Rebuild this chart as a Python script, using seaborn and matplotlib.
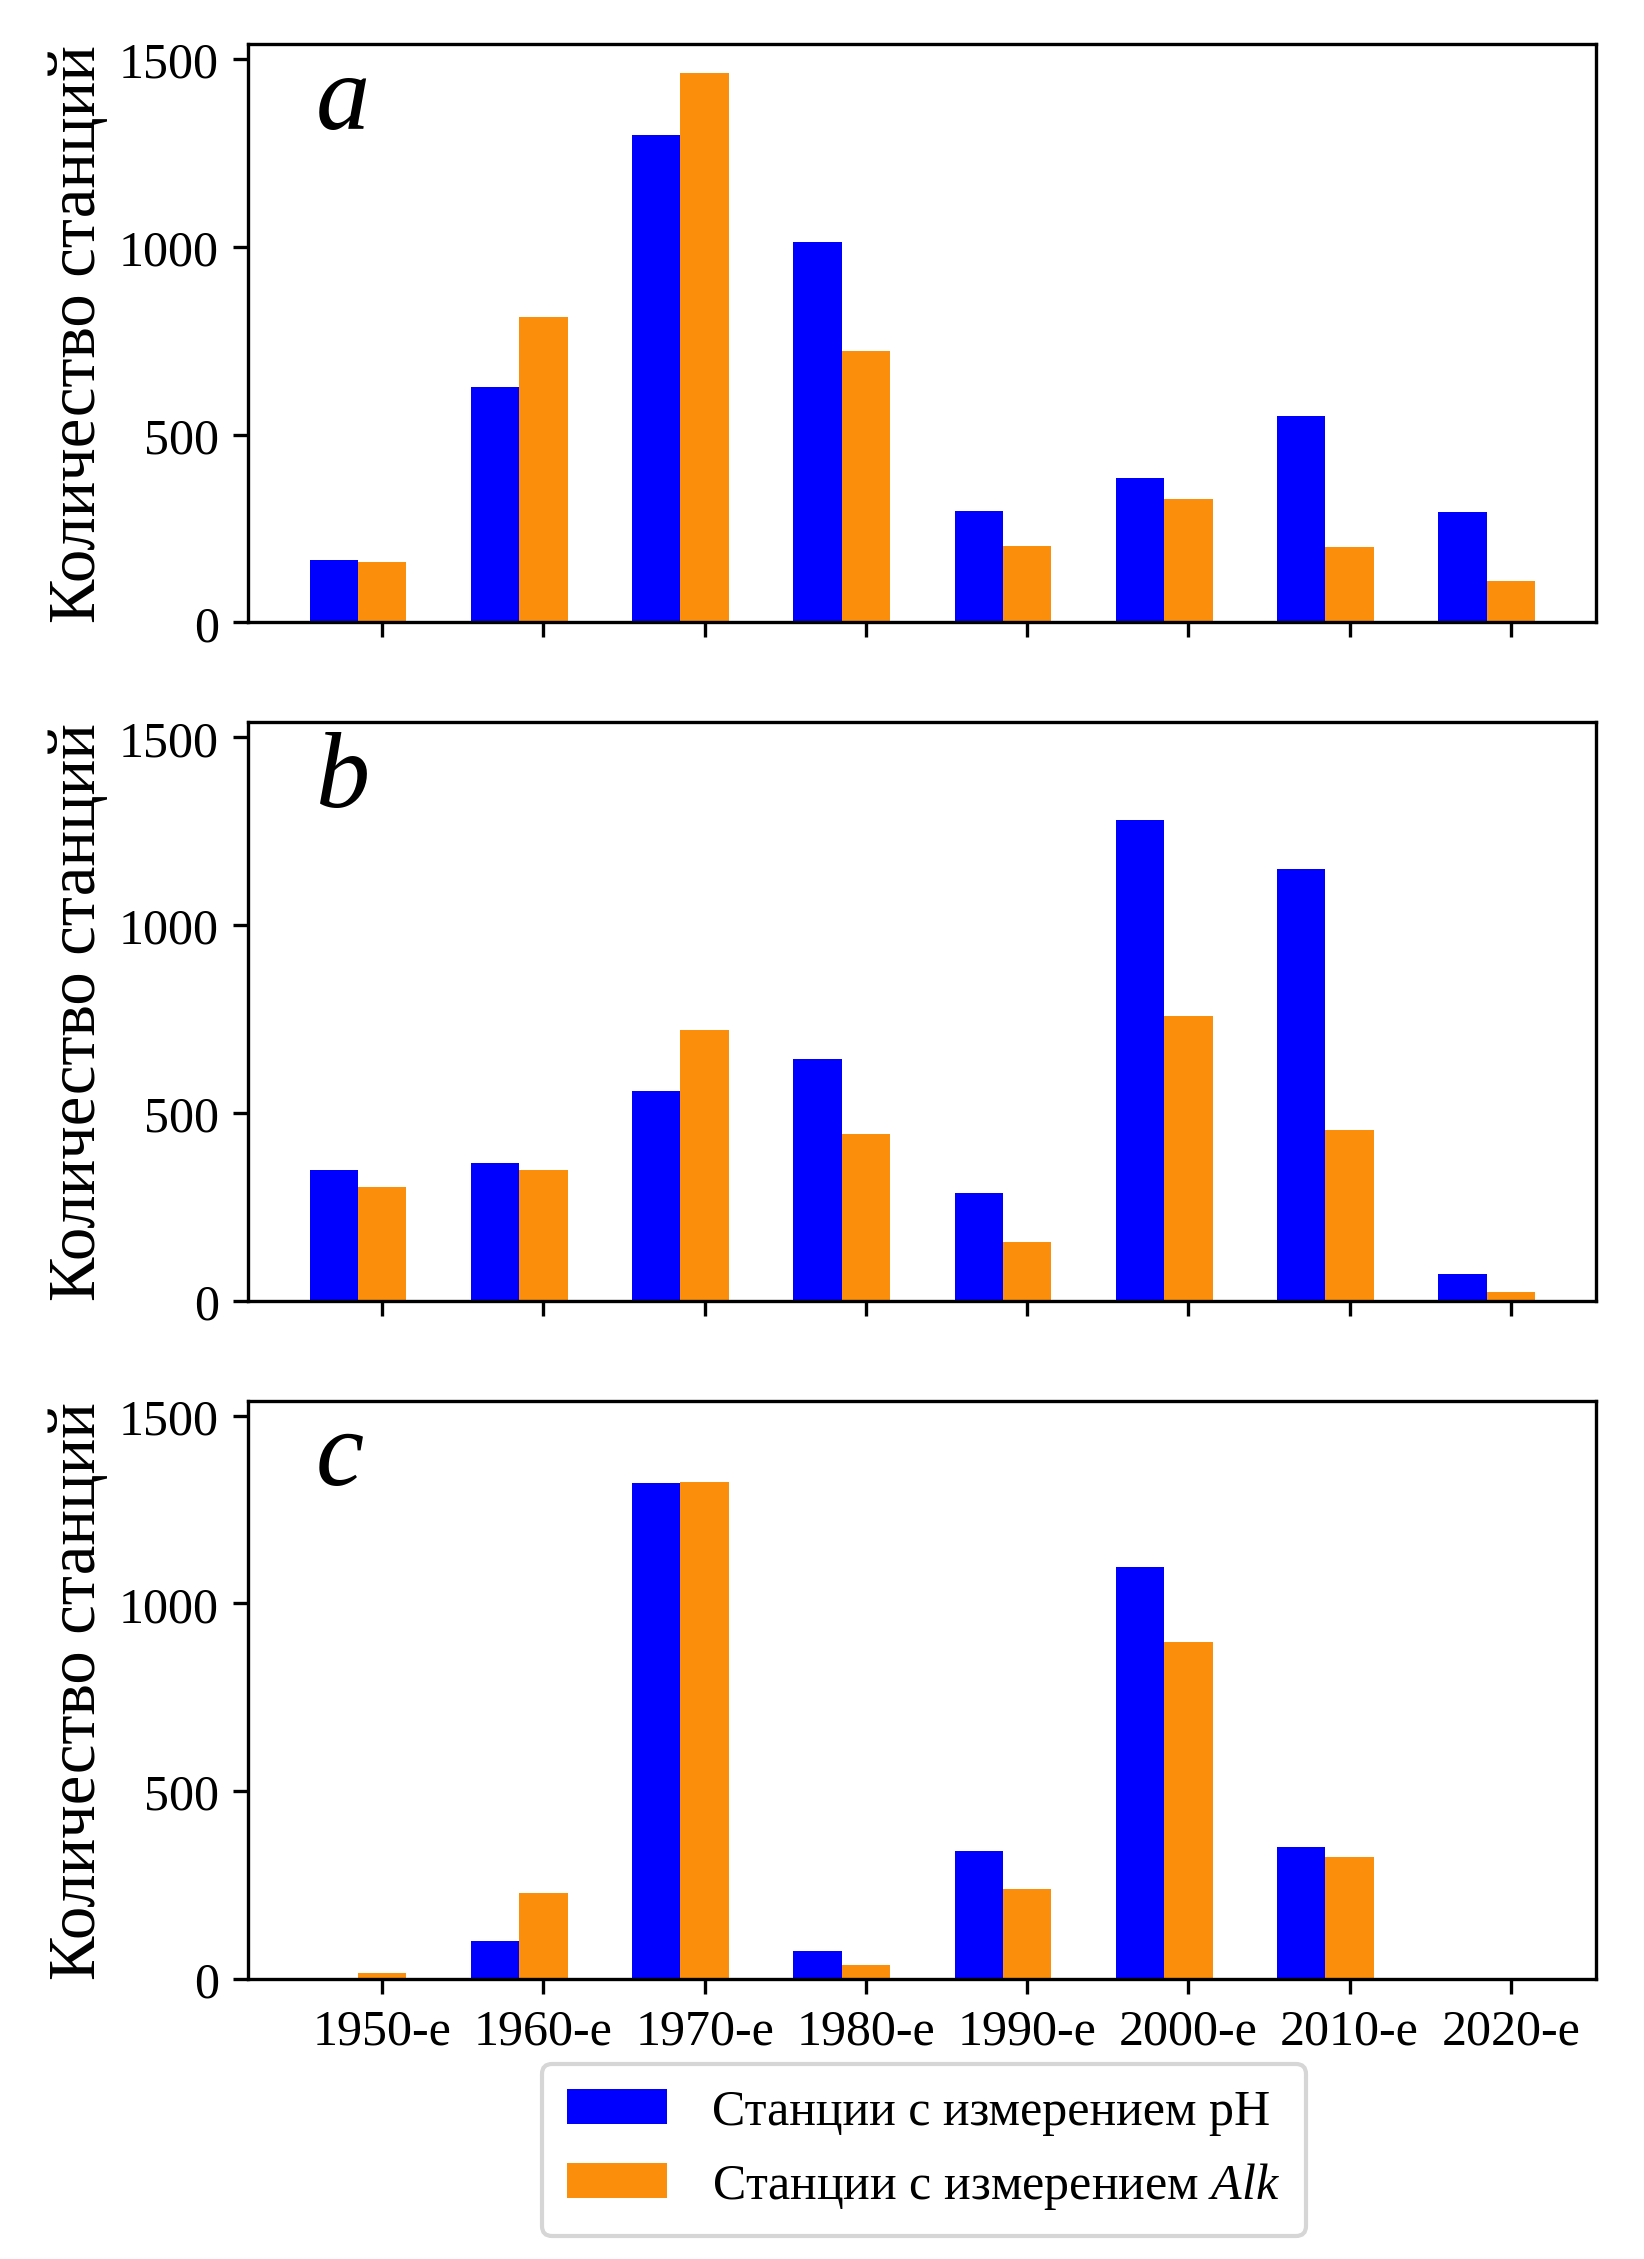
import numpy as np
import pandas as pd
import seaborn as sns
import matplotlib.pyplot as plt
from matplotlib.patches import Patch

decades = ['1950-е', '1960-е', '1970-е', '1980-е', '1990-е', '2000-е', '2010-е', '2020-е']

ph_a = [166, 626, 1298, 1013, 296, 384, 551, 293]
alk_a = [161, 814, 1464, 724, 204, 330, 200, 110]

ph_b = [349, 366, 559, 643, 286, 1279, 1151, 70]
alk_b = [302, 348, 720, 444, 156, 759, 455, 23]

ph_c = [0, 101, 1320, 75, 340, 1097, 351, 0]
alk_c = [16, 228, 1324, 38, 238, 898, 324, 0]

panel_letters = ['a', 'b', 'c']
series_names = ['Станции с измерением pH', 'Станции с измерением $\\mathit{Alk}$']
colors = ['#0000ff', '#fb8f0c']

sns.set_style('ticks', {'axes.edgecolor': 'black', 'xtick.color': 'black',
                        'ytick.color': 'black', 'text.color': 'black',
                        'axes.labelcolor': 'black'})
plt.rcParams['font.family'] = ['Liberation Serif', 'DejaVu Serif']
plt.rcParams['mathtext.fontset'] = 'custom'
plt.rcParams['mathtext.rm'] = 'Liberation Serif'
plt.rcParams['mathtext.it'] = 'Liberation Serif:italic'


def make_df(ph, alk):
    df = pd.DataFrame({'decade': decades * 2,
                       'count': ph + alk,
                       'kind': ['pH'] * len(decades) + ['Alk'] * len(decades)})
    return df


panels = [(ph_a, alk_a), (ph_b, alk_b), (ph_c, alk_c)]

fig, axes = plt.subplots(3, 1, figsize=(5.48, 7.533), dpi=300, sharex=True)
fig.subplots_adjust(left=0.151, right=0.971, top=0.980, bottom=0.124, hspace=0.173)

for ax, (ph, alk), letter in zip(axes, panels, panel_letters):
    df = make_df(ph, alk)
    sns.barplot(data=df, x='decade', y='count', hue='kind', hue_order=['pH', 'Alk'],
                palette=colors, saturation=1, width=0.6, linewidth=0,
                legend=False, ax=ax)
    # ticks sit under the Alk bar, as in the original figure
    ax.set_xticks(np.arange(len(decades)) + 0.15, decades)
    ax.set_xlim(-0.68, 7.68)
    ax.set_ylim(0, 1540)
    ax.set_yticks([0, 500, 1000, 1500])
    ax.set_ylabel('Количество станций', fontsize=16, labelpad=2.5)
    ax.set_xlabel('')
    ax.tick_params(labelsize=12)
    ax.text(0.05, 0.855, letter, transform=ax.transAxes, fontsize=26,
            fontstyle='italic', va='baseline', ha='left')

handles = [Patch(facecolor=c, edgecolor='none') for c in colors]
fig.legend(handles, series_names, loc='upper center', bbox_to_anchor=(0.562, 0.0863),
           borderaxespad=0, borderpad=0.5, handletextpad=0.9,
           fontsize=12, frameon=True)

fig.savefig('out.png', dpi=300)
